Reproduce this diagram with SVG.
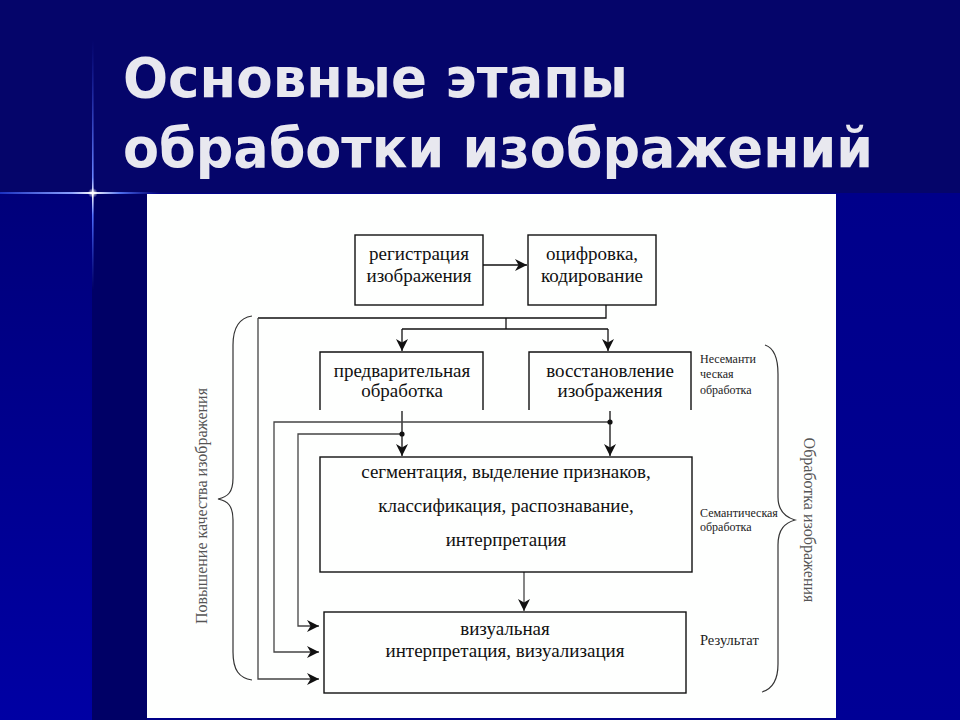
<svg xmlns="http://www.w3.org/2000/svg" width="960" height="720" viewBox="0 0 960 720">
  <defs>
    <linearGradient id="gLeft" x1="0" y1="0" x2="0" y2="1">
      <stop offset="0" stop-color="#00007a"/>
      <stop offset="1" stop-color="#0000a4"/>
    </linearGradient>
    <linearGradient id="gRight" x1="0" y1="0" x2="0" y2="1">
      <stop offset="0" stop-color="#00008a"/>
      <stop offset="1" stop-color="#000096"/>
    </linearGradient>
    <linearGradient id="gVline" x1="0" y1="0" x2="0" y2="1">
      <stop offset="0" stop-color="#2a40e0" stop-opacity="0"/>
      <stop offset="0.55" stop-color="#6a86ff"/>
      <stop offset="0.62" stop-color="#ffffff"/>
      <stop offset="0.7" stop-color="#5070ff"/>
      <stop offset="1" stop-color="#2a40e0" stop-opacity="0"/>
    </linearGradient>
    <linearGradient id="gHline" x1="0" y1="0" x2="1" y2="0">
      <stop offset="0" stop-color="#1a30c0"/>
      <stop offset="0.45" stop-color="#8aa0ff"/>
      <stop offset="0.58" stop-color="#ffffff"/>
      <stop offset="0.75" stop-color="#5070f0"/>
      <stop offset="1" stop-color="#2a40e0" stop-opacity="0"/>
    </linearGradient>
    <radialGradient id="gSpark">
      <stop offset="0" stop-color="#ffffff"/>
      <stop offset="1" stop-color="#ffffff" stop-opacity="0"/>
    </radialGradient>
    <marker id="arr" viewBox="0 0 10 10" refX="10" refY="5" markerWidth="12" markerHeight="12" markerUnits="userSpaceOnUse" orient="auto">
      <path d="M0,0 L10,5 L0,10 L3,5 z" fill="#111"/>
    </marker>
    <style>
      .title { font-family: "DejaVu Sans", "Liberation Sans", sans-serif; font-weight: bold; font-size: 55px; fill: #e8e8ef; }
      .box { fill: none; stroke: #111; stroke-width: 1.4; }
      .t { font-family: "Liberation Serif", "DejaVu Serif", serif; font-size: 19px; fill: #111; text-anchor: middle; }
      .side { font-family: "Liberation Serif", "DejaVu Serif", serif; font-size: 12px; fill: #222; }
      .res { font-family: "Liberation Serif", "DejaVu Serif", serif; font-size: 14.5px; fill: #222; }
      .rot { font-family: "Liberation Serif", "DejaVu Serif", serif; font-size: 16px; fill: #555; text-anchor: middle; }
      .ln { fill: none; stroke: #111; stroke-width: 1.3; }
      .lg { fill: none; stroke: #444; stroke-width: 1.3; }
      .brace { fill: none; stroke: #333; stroke-width: 1.2; }
    </style>
  </defs>

  <!-- background -->
  <rect x="0" y="0" width="960" height="720" fill="#000088"/>
  <rect x="0" y="0" width="960" height="193" fill="#05056a"/>
  <rect x="0" y="193" width="92" height="527" fill="url(#gLeft)"/>
  <rect x="92" y="193" width="55" height="527" fill="#000066"/>
  <rect x="836" y="193" width="124" height="527" fill="url(#gRight)"/>
  <rect x="92" y="40" width="1.6" height="250" fill="url(#gVline)"/>
  <rect x="0" y="192" width="160" height="2" fill="url(#gHline)"/>
  <circle cx="92.8" cy="193" r="5" fill="url(#gSpark)"/>
  <rect x="147" y="194" width="689" height="524" fill="#fefffe"/>

  <!-- title -->
  <text class="title" x="123" y="97" textLength="505" lengthAdjust="spacingAndGlyphs">Основные этапы</text>
  <text class="title" x="123" y="167" textLength="750" lengthAdjust="spacingAndGlyphs">обработки изображений</text>

  <!-- connectors -->
  <g id="connectors">
    <path class="ln" d="M483,265 H527" marker-end="url(#arr)"/>
    <path class="ln" d="M606,305 V318 H258"/>
    <path class="lg" d="M258,318 V679 H319" marker-end="url(#arr)"/>
    <path class="ln" d="M506,318 V329"/>
    <path class="ln" d="M402,329 H608"/>
    <path class="ln" d="M402,329 V351" marker-end="url(#arr)"/>
    <path class="ln" d="M608,329 V351" marker-end="url(#arr)"/>
    <path class="ln" d="M402,411 V456" marker-end="url(#arr)"/>
    <path class="ln" d="M610,411 V456" marker-end="url(#arr)"/>
    <path class="lg" d="M610,422 H274 V652 H319" marker-end="url(#arr)"/>
    <path class="lg" d="M402,434 H298 V626 H319" marker-end="url(#arr)"/>
    <circle cx="610" cy="422" r="2.6" fill="#111"/>
    <circle cx="402" cy="434" r="2.6" fill="#111"/>
    <path class="lg" d="M524,572 V611" marker-end="url(#arr)"/>
  </g>

  <!-- nodes -->
  <g id="registration">
    <rect class="box" x="355" y="235" width="128" height="70"/>
    <text class="t" x="419" y="260">регистрация</text>
    <text class="t" x="419" y="282">изображения</text>
  </g>
  <g id="digitizing">
    <rect class="box" x="528" y="235" width="128" height="70"/>
    <text class="t" x="592" y="260">оцифровка,</text>
    <text class="t" x="592" y="282">кодирование</text>
  </g>
  <g id="preprocessing">
    <path class="box" d="M320,410 V352 H483 V410"/>
    <text class="t" x="402" y="377">предварительная</text>
    <text class="t" x="402" y="397">обработка</text>
  </g>
  <g id="restoration">
    <path class="box" d="M529,410 V352 H691 V410"/>
    <text class="t" x="610" y="377">восстановление</text>
    <text class="t" x="610" y="397">изображения</text>
  </g>
  <g id="segmentation">
    <rect class="box" x="320" y="457" width="372" height="115"/>
    <text class="t" x="506" y="478">сегментация, выделение признаков,</text>
    <text class="t" x="506" y="512">классификация, распознавание,</text>
    <text class="t" x="506" y="546">интерпретация</text>
  </g>
  <g id="visualization">
    <rect class="box" x="324" y="612" width="362" height="81"/>
    <text class="t" x="505" y="635">визуальная</text>
    <text class="t" x="505" y="657">интерпретация, визуализация</text>
  </g>

  <!-- side labels and braces -->
  <g id="label-nonsemantic">
    <text class="side" x="700" y="363">Несеманти</text>
    <text class="side" x="700" y="378">ческая</text>
    <text class="side" x="700" y="394">обработка</text>
  </g>
  <g id="label-semantic">
    <text class="side" x="700" y="517">Семантическая</text>
    <text class="side" x="700" y="531">обработка</text>
  </g>
  <g id="label-result">
    <text class="res" x="700" y="645">Результат</text>
  </g>
  <g id="brace-left">
    <path class="brace" d="M252,316 C239,318 233,328 233,345 V478 C233,492 228,497 218,499 C228,501 233,506 233,520 V652 C233,670 239,678 252,680"/>
    <text class="rot" transform="translate(207,506) rotate(-90)">Повышение качества изображения</text>
  </g>
  <g id="brace-right">
    <path class="brace" d="M765,345 C774,348 778,358 778,374 V497 C778,511 785,517 795,520 C785,523 778,529 778,545 V664 C778,681 772,689 762,692"/>
    <text class="rot" transform="translate(804,520) rotate(90)">Обработка изображения</text>
  </g>
</svg>
